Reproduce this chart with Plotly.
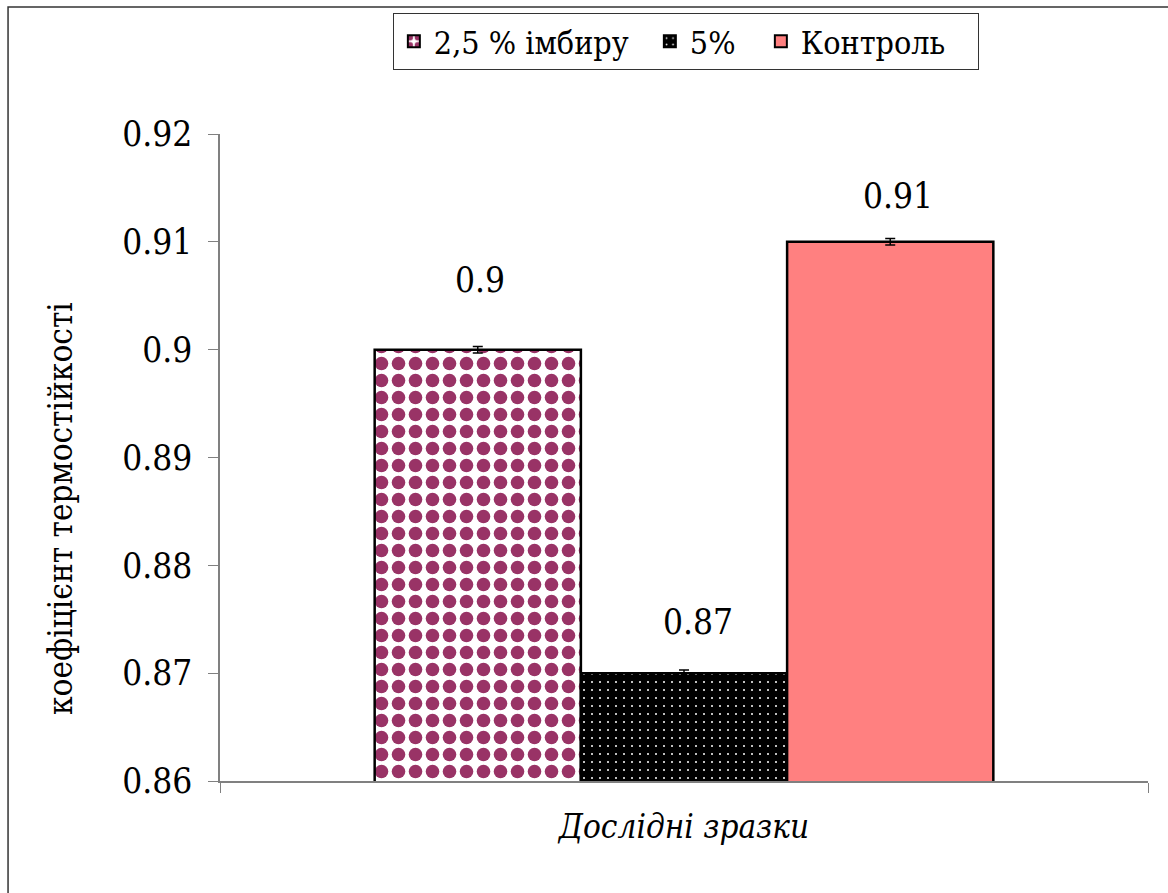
import plotly.graph_objects as go

# Thermal-stability coefficient for the test samples
series_names = ["2,5 % імбиру", "5%", "Контроль"]
values = [0.90, 0.87, 0.91]
errors = [0.0003, 0.0003, 0.0003]
value_labels = ["0.9", "0.87", "0.91"]
category = ["Дослідні зразки"]
y_ticks = [0.86, 0.87, 0.88, 0.89, 0.90, 0.91, 0.92]
y_title = "коефіцієнт термостійкості"

FONT = "DejaVu Serif Condensed, DejaVu Serif, serif"

patterns = [
    dict(shape=".", fgcolor="#993366", bgcolor="white", size=17, solidity=0.5, fillmode="replace"),
    dict(shape=".", fgcolor="white", bgcolor="black", size=8, solidity=0.05, fillmode="replace"),
    None,
]
fill_colors = ["white", "black", "#FF8080"]
legend_widths = [211, 66, 172]
label_yshift = [70, 51, 46]
label_xshift = [2, 14, 8]

BARGAP = 1 / 3

fig = go.Figure()
for i, name in enumerate(series_names):
    marker = dict(color=fill_colors[i], line=dict(color="black", width=2.5))
    if patterns[i] is not None:
        marker["pattern"] = patterns[i]
    fig.add_trace(go.Bar(
        name=name,
        x=category,
        y=[values[i]],
        marker=marker,
        legendwidth=legend_widths[i],
        error_y=dict(type="data", array=[errors[i]], visible=True,
                     color="black", thickness=1.5, width=5),
    ))

# value labels above each bar, centred on the grouped bar positions
n = len(series_names)
bar_w = (1 - BARGAP) / n
for i in range(n):
    xc = -(1 - BARGAP) / 2 + bar_w * (i + 0.5)
    fig.add_annotation(
        x=xc, y=values[i], xref="x", yref="y",
        text=value_labels[i], showarrow=False,
        yanchor="middle", yshift=label_yshift[i], xshift=label_xshift[i],
        font=dict(family=FONT, size=35, color="black"),
    )

# vertical axis title, set a little below the axis midpoint
fig.add_annotation(
    x=-0.1724, y=0.4204, xref="paper", yref="paper",
    text=y_title, textangle=-90, showarrow=False,
    xanchor="center", yanchor="middle",
    font=dict(family=FONT, size=33, color="black"),
)

# outer chart frame (left and top edges fall inside the page)
fig.add_shape(type="rect", xref="paper", yref="paper",
              x0=-0.2284, x1=1.3, y0=-0.5, y1=1.1963,
              line=dict(color="#333333", width=1.5), fillcolor="rgba(0,0,0,0)",
              layer="below")

fig.update_layout(
    width=1168, height=893,
    margin=dict(l=220, r=20, t=134, b=112),
    paper_bgcolor="white", plot_bgcolor="white",
    barmode="group", bargap=BARGAP, bargroupgap=0,
    font=dict(family=FONT, color="black"),
    showlegend=True,
    legend=dict(
        orientation="h", x=0.502, xanchor="center", y=1.187, yanchor="top",
        font=dict(family=FONT, size=32, color="black"),
        bordercolor="#333333", borderwidth=1, bgcolor="white",
        itemsizing="constant",
    ),
    xaxis=dict(
        type="category", showticklabels=False,
        showline=True, linecolor="#808080", linewidth=1.5,
        ticks="outside", tickson="boundaries", ticklen=10, tickcolor="#808080",
        showgrid=False, zeroline=False,
        title=dict(text="<i>Дослідні зразки</i>", standoff=33,
                   font=dict(family=FONT, size=33, color="black")),
    ),
    yaxis=dict(
        range=[0.86, 0.92], tickvals=y_ticks,
        ticktext=[f"{v:g}" for v in y_ticks],
        showline=True, linecolor="#808080", linewidth=1.5,
        ticks="outside", ticklen=10, tickcolor="#808080",
        ticklabelstandoff=9,
        showgrid=False, zeroline=False,
        tickfont=dict(family=FONT, size=35, color="black"),
    ),
)

fig.write_html("out.html")
